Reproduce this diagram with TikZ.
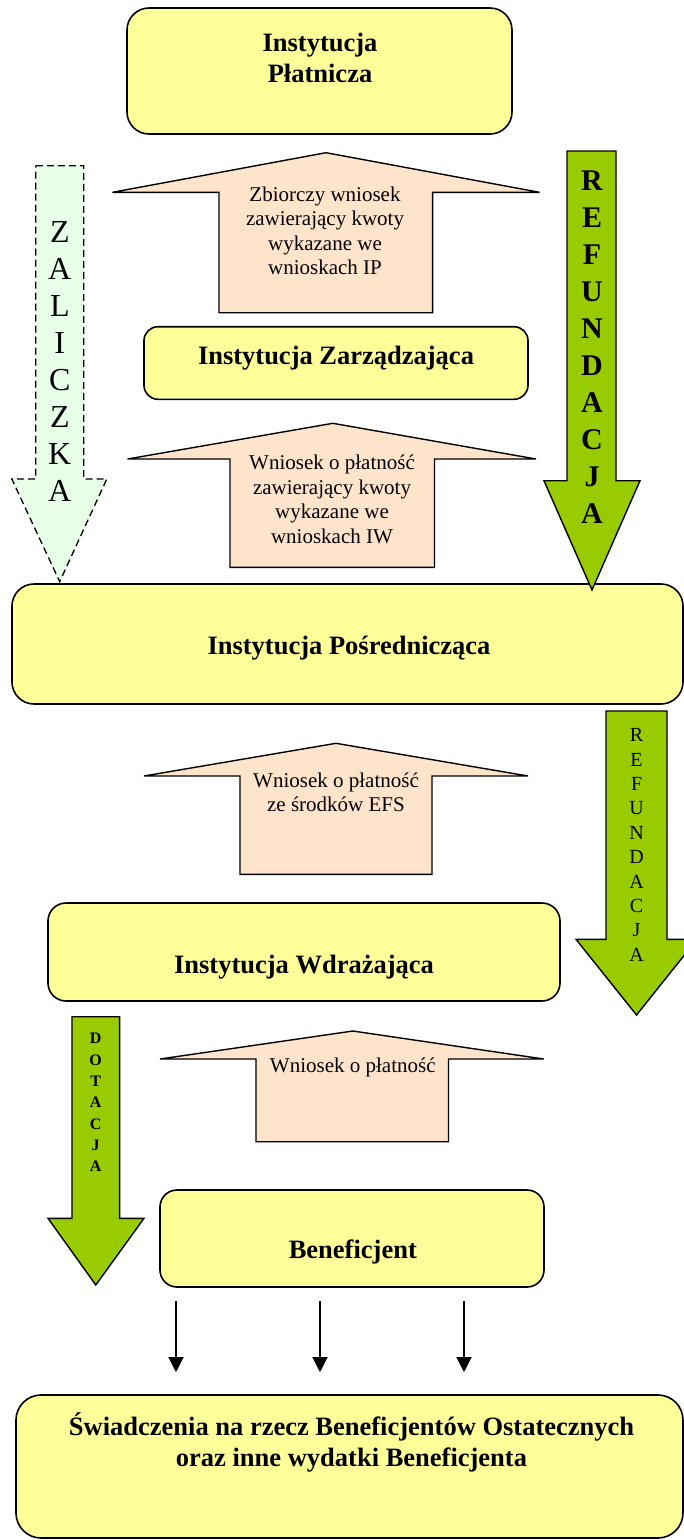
\documentclass[tikz,border=0pt]{standalone}
\usepackage{fontspec}
\setmainfont{Liberation Serif}
\usetikzlibrary{arrows.meta}
\definecolor{boxyellow}{RGB}{255,255,153}
\definecolor{peachfill}{RGB}{255,228,204}
\definecolor{greenfill}{RGB}{153,204,0}
\definecolor{palegreen}{RGB}{230,255,230}
\begin{document}
\begin{tikzpicture}[x=1pt,y=-1pt,
  inst/.style={draw=black, line width=1.6pt, fill=boxyellow, inner sep=0pt},
  insttext/.style={align=center, inner sep=0pt, font=\fontsize{26.5}{31}\selectfont\bfseries},
  blockarrow/.style={draw=black, line width=1.4pt, fill=peachfill, line join=miter},
  arrowtext/.style={align=center, inner sep=0pt, font=\fontsize{21}{24.5}\selectfont},
  greenarrow/.style={draw=black, line width=1.4pt, fill=greenfill, line join=miter},
  dasharrow/.style={draw=black, line width=1.3pt, dash pattern=on 7pt off 4pt, fill=palegreen, line join=miter},
  conn/.style={line width=1.2pt, -{Triangle[length=15pt,width=15pt]}}
]
\useasboundingbox (0,0) rectangle (684,1540);
\clip (0,0) rectangle (684,1540);

% ---- boxes ----
\node[inst, rounded corners=22pt, minimum width=385pt, minimum height=126pt] (plat) at (319.5,71) {};
\node[insttext] (plattxt) at (320,57.5) {Instytucja\\Płatnicza};

\node[inst, rounded corners=14pt, minimum width=384pt, minimum height=72.6pt] (zarz) at (336,363) {};
\node[insttext] (zarztxt) at (336,358) {Instytucja Zarządzająca};

\node[inst, rounded corners=22pt, minimum width=671pt, minimum height=120pt] (posr) at (347.5,644) {};
\node[insttext] (posrtxt) at (349,648) {Instytucja Pośrednicząca};

\node[inst, rounded corners=18pt, minimum width=512pt, minimum height=98pt] (wdr) at (304,952) {};
\node[insttext] (wdrtxt) at (304,967) {Instytucja Wdrażająca};

\node[inst, rounded corners=17pt, minimum width=384pt, minimum height=97pt] (benef) at (352,1238.5) {};
\node[insttext] (beneftxt) at (352.8,1252) {Beneficjent};

\node[inst, rounded corners=25pt, minimum width=667pt, minimum height=143pt] (final) at (349.5,1466.5) {};
\node[insttext] (finaltxt) at (351.5,1442) {Świadczenia na rzecz Beneficjentów Ostatecznych\\oraz inne wydatki Beneficjenta};

% ---- up block arrows ----
\draw[blockarrow] (112.5,192.3) -- (326,152.7) -- (539.5,192.3) -- (432.6,192.3) -- (432.6,312.7) -- (219,312.7) -- (219,192.3) -- cycle;
\node[arrowtext] (req1) at (325,231) {Zbiorczy wniosek\\zawierający kwoty\\wykazane we\\wnioskach IP};

\draw[blockarrow] (127.5,459) -- (332.8,423.3) -- (536,459) -- (434.5,459) -- (434.5,567.3) -- (230,567.3) -- (230,459) -- cycle;
\node[arrowtext] (req2) at (332,499.5) {Wniosek o płatność\\zawierający kwoty\\wykazane we\\wnioskach IW};

\draw[blockarrow] (144,776) -- (336,743.3) -- (528,776) -- (432,776) -- (432,874.3) -- (240,874.3) -- (240,776) -- cycle;
\node[arrowtext] (req3) at (336,792.5) {Wniosek o płatność\\ze środków EFS};

\draw[blockarrow] (160,1059) -- (352.8,1031) -- (543.7,1059) -- (448.5,1059) -- (448.5,1141.7) -- (256,1141.7) -- (256,1059) -- cycle;
\node[arrowtext] (req4) at (352.8,1067) {Wniosek o płatność};

% ---- down arrows ----
\draw[dasharrow] (35.8,165.7) -- (83.7,165.7) -- (83.7,479) -- (106.8,479) -- (59.7,581.7) -- (11.8,479) -- (35.8,479) -- cycle;
\node[align=center, inner sep=0pt, font=\fontsize{32}{37}\selectfont] (zal) at (59.8,361.3) {Z\\A\\L\\I\\C\\Z\\K\\A};

\draw[greenarrow] (567,151) -- (616,151) -- (616,480.7) -- (640,480.7) -- (592,590) -- (544,480.7) -- (567,480.7) -- cycle;
\node[align=center, inner sep=0pt, font=\fontsize{30}{37}\selectfont\bfseries] (ref1) at (592,347.3) {R\\E\\F\\U\\N\\D\\A\\C\\J\\A};

\draw[greenarrow] (606,711) -- (667,711) -- (667,939.3) -- (697,939.3) -- (636.5,1015) -- (576,939.3) -- (606,939.3) -- cycle;
\node[align=center, inner sep=0pt, font=\fontsize{20}{24.4}\selectfont] (ref2) at (636.6,845) {R\\E\\F\\U\\N\\D\\A\\C\\J\\A};

\draw[greenarrow] (72,1016.7) -- (119.6,1016.7) -- (119.6,1218.3) -- (144,1218.3) -- (95.8,1285) -- (48,1218.3) -- (72,1218.3) -- cycle;
\node[align=center, inner sep=0pt, font=\fontsize{16}{21.3}\selectfont\bfseries] (dot) at (95.6,1102.5) {D\\O\\T\\A\\C\\J\\A};

% ---- connectors ----
\foreach \xx in {176,320,464} {
  \draw[conn, shorten <=13pt, shorten >=22pt] (benef.south -| \xx,0) -- (final.north -| \xx,0);
}
\end{tikzpicture}
\end{document}
